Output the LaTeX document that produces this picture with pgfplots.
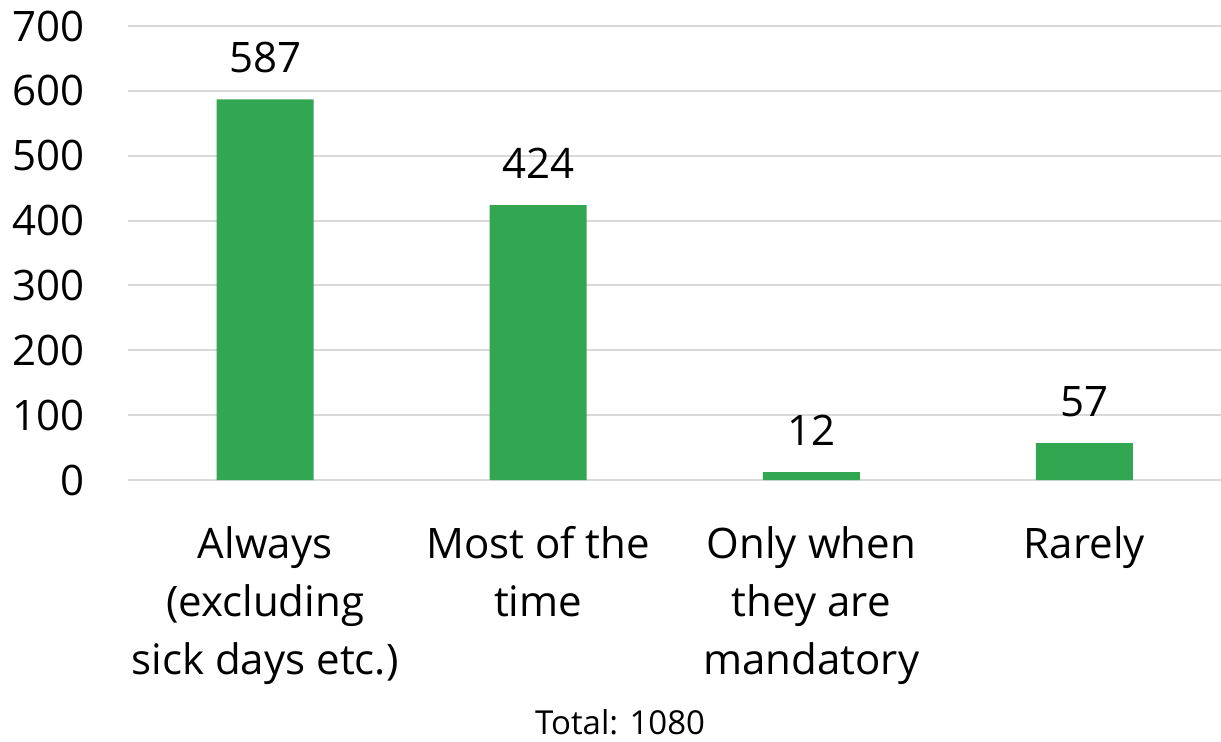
\documentclass[border=0pt]{standalone}
\usepackage{fontspec}
\setmainfont{Open Sans}
\usepackage{pgfplots}
\pgfplotsset{compat=1.18}
\definecolor{bargreen}{RGB}{51,166,82}
\definecolor{gridgray}{RGB}{217,217,217}
\begin{document}
\begin{tikzpicture}
\begin{axis}[
  scale only axis,
  width=546.25pt, height=227pt,
  xmin=-0.5, xmax=3.5,
  ymin=0, ymax=700,
  ytick={0,100,...,700},
  xtick=data,
  xticklabels={{Always\\(excluding\\sick days etc.)},{Most of the\\time},{Only when\\they are\\mandatory},{Rarely}},
  axis line style={draw=none},
  major tick length=0pt,
  ymajorgrids,
  major grid style={gridgray, line width=1pt},
  /pgf/number format/assume math mode=true,
  tick label style={font=\fontsize{21}{29}\selectfont},
  yticklabel style={inner sep=0pt, anchor=east, xshift=-22pt},
  xticklabel style={inner sep=0pt, anchor=north, align=center, yshift=-23pt},
  clip=false,
  ybar, bar width=48.5pt, bar shift=0pt,
  nodes near coords,
  nodes near coords style={font=\fontsize{21}{29}\selectfont, inner sep=0pt, anchor=south, yshift=13pt, text=black},
]
\addplot[fill=bargreen, draw=none] coordinates {(0,587) (1,424) (2,12) (3,57)};
\node[anchor=base, inner sep=0pt, font=\fontsize{16.5}{20}\selectfont] at (rel axis cs:0.45,0) [yshift=-127pt] {Total: 1080};
\path (rel axis cs:0,0) ++(-64.25pt,240pt) coordinate (tl);
\path (rel axis cs:1,0) ++(0pt,-130.5pt) coordinate (br);
\end{axis}
\pgfresetboundingbox
\path[use as bounding box] (tl) rectangle (br);
\end{tikzpicture}
\end{document}
